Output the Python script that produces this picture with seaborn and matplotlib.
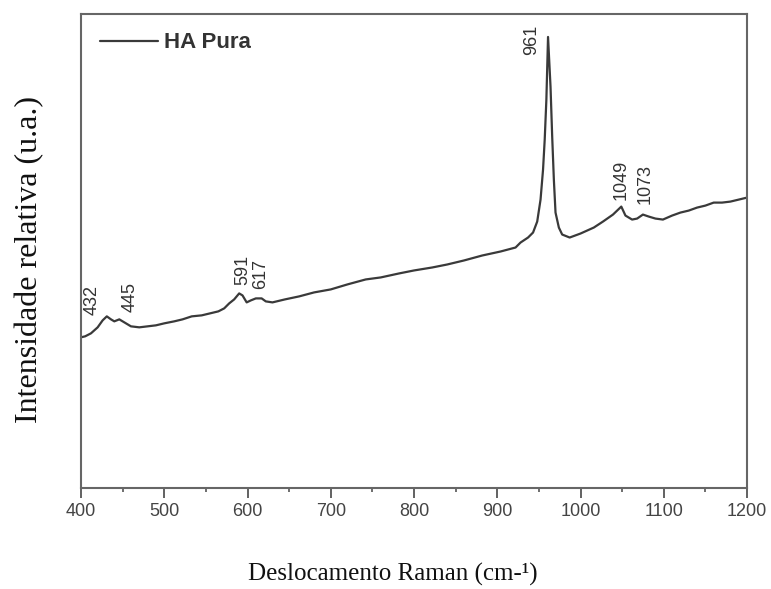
import matplotlib
matplotlib.use("Agg")
import matplotlib.pyplot as plt
import seaborn as sns
import pandas as pd
from matplotlib.ticker import MultipleLocator

# Raman shift (cm-1) and relative intensity (arbitrary units)
raman_shift = [400, 405, 412, 420, 426, 431, 436, 440, 446, 452, 460, 470, 480, 490,
               500, 512, 522, 533, 545, 555, 565, 572, 578, 584, 590, 594, 599, 604,
               610, 617, 622, 630, 645, 662, 680, 700, 720, 742, 760, 782, 800, 822,
               840, 860, 882, 904, 922, 928, 937, 943, 948, 952, 955, 957, 959, 961,
               964, 966, 968, 970, 974, 978, 987, 1000, 1016, 1027, 1039, 1049, 1054,
               1062, 1068, 1075, 1082, 1090, 1099, 1110, 1120, 1130, 1140, 1150, 1160,
               1170, 1180, 1190, 1200]
intensity = [151, 152, 155, 161, 168, 172, 169, 167, 169, 166, 162, 161, 162, 163,
             165, 167, 169, 172, 173, 175, 177, 180, 185, 189, 195, 193, 186, 188,
             190, 190, 187, 186, 189, 192, 196, 199, 204, 209, 211, 215, 218, 221,
             224, 228, 233, 237, 241, 246, 251, 256, 267, 289, 319, 349, 389, 452,
             402, 352, 309, 276, 261, 254, 251, 255, 261, 267, 274, 282, 273,
             269, 270, 274, 272, 270, 269, 273, 276, 278, 281, 283, 286,
             286, 287, 289, 291]

# Peak annotations: label, x position, y position of text centre
peak_labels = ["432", "445", "591", "617", "961", "1049", "1073"]
peak_text_x = [413, 459, 594, 616, 941, 1049, 1078]
peak_text_y = [188, 191, 219, 214, 449, 309, 305]

series_name = "HA Pura"
xlabel = "Deslocamento Raman (cm-¹)"
ylabel = "Intensidade relativa (u.a.)"

df = pd.DataFrame({"x": raman_shift, "y": intensity})

sns.set_style("white")
plt.rcParams["font.family"] = ["Liberation Sans", "DejaVu Sans"]

fig = plt.figure(figsize=(7.71, 5.89), dpi=100)
ax = fig.add_axes([81 / 771, 1 - 488 / 589, (747 - 81) / 771, (488 - 14) / 589])

sns.lineplot(data=df, x="x", y="y", ax=ax, color="#3a3a3a", linewidth=1.6,
             label=series_name, estimator=None, sort=False)

ax.set_xlim(400, 1200)
ax.set_ylim(0, 475)
ax.set_yticks([])
ax.xaxis.set_major_locator(MultipleLocator(100))
ax.xaxis.set_minor_locator(MultipleLocator(50))
ax.tick_params(axis="x", which="major", direction="out", length=7, width=1.3,
               color="#555555", labelsize=13, labelcolor="#444444", pad=4, bottom=True)
ax.tick_params(axis="x", which="minor", direction="out", length=3, width=1.2,
               color="#555555", bottom=True)
for s in ax.spines.values():
    s.set_color("#666666")
    s.set_linewidth(1.5)
ax.set_xlabel("")
ax.set_ylabel("")

for lab, tx, ty in zip(peak_labels, peak_text_x, peak_text_y):
    ax.text(tx, ty, lab, rotation=90, ha="center", va="center", fontsize=13,
            color="#333333")

leg = ax.legend(loc="center left", bbox_to_anchor=((100 - 81) / 666, 1 - (43 - 14) / 474),
                frameon=False, borderpad=0, borderaxespad=0, handlelength=2.6,
                handletextpad=0.3, prop={"size": 16, "weight": "bold"})
for t in leg.get_texts():
    t.set_color("#333333")

fig.text(30 / 771, 1 - 260 / 589, ylabel, rotation=90, ha="center", va="center",
         fontsize=23, family=["Liberation Serif", "DejaVu Serif"], color="#111111")
fig.text(393 / 771, 1 - 574 / 589, xlabel, ha="center", va="center",
         fontsize=18, family=["Liberation Serif", "DejaVu Serif"], color="#111111")

fig.savefig("out.png", dpi=100, facecolor="white")
